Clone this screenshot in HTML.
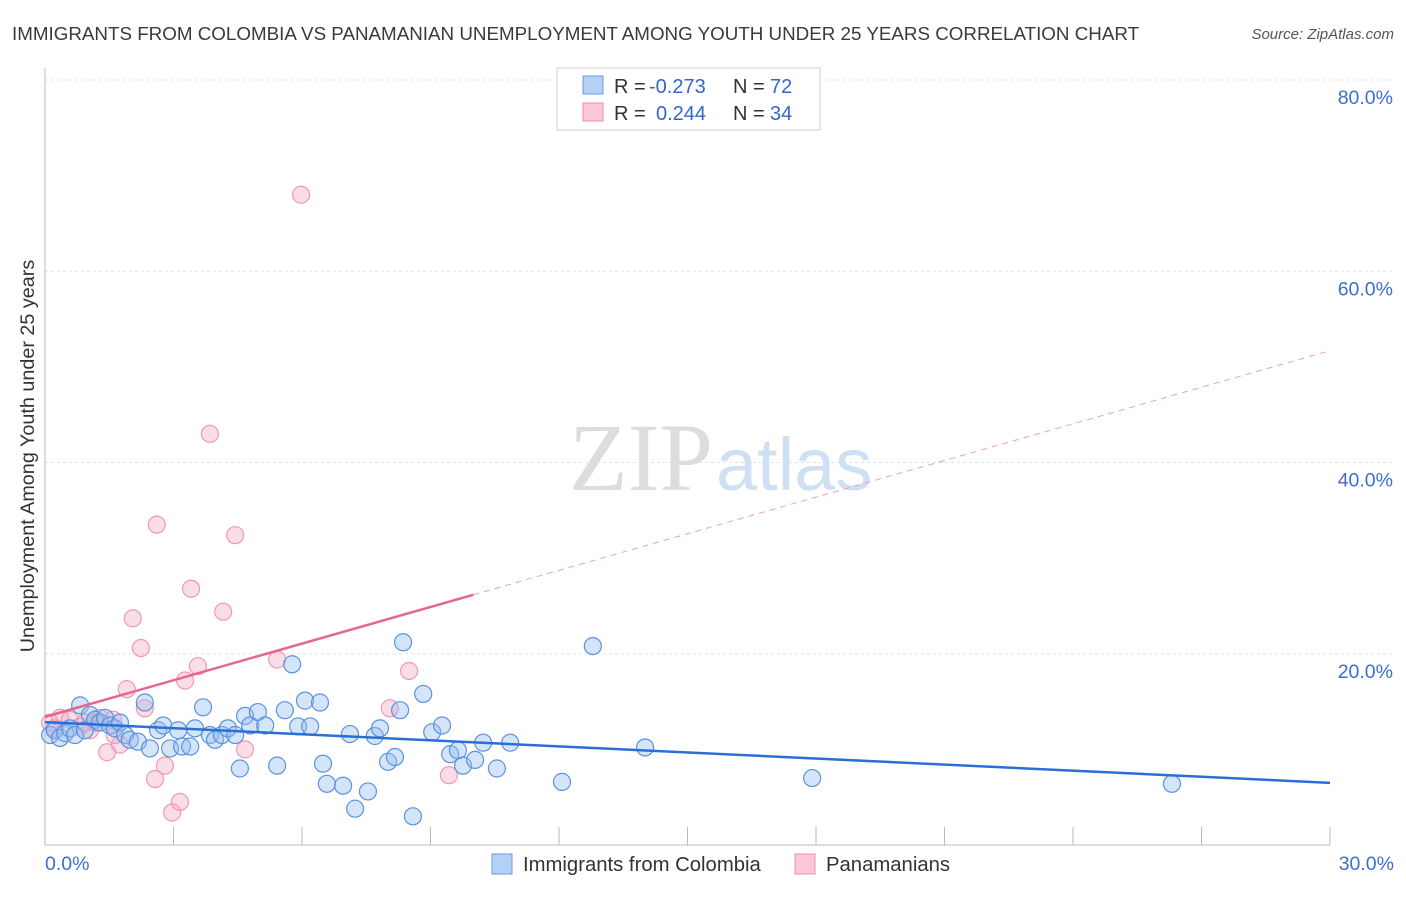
<!DOCTYPE html>
<html><head><meta charset="utf-8"><style>
body{margin:0;background:#fff;font-family:"Liberation Sans",sans-serif;}
</style></head><body>
<svg id="chart" width="1406" height="892" xmlns="http://www.w3.org/2000/svg" font-family="Liberation Sans, sans-serif">
<text x="12" y="40" font-size="18.8" fill="#3a3a3a">IMMIGRANTS FROM COLOMBIA VS PANAMANIAN UNEMPLOYMENT AMONG YOUTH UNDER 25 YEARS CORRELATION CHART</text>
<text x="1394" y="39" font-size="15" fill="#555" text-anchor="end" font-style="italic">Source: ZipAtlas.com</text>
<g id="grid"></g>
<text x="713" y="490" font-size="96" text-anchor="end" fill="#ddd" font-family="Liberation Serif, serif">ZIP</text>
<text x="716" y="490" font-size="74" fill="#cfe0f5">atlas</text>
<g id="marks"></g>
<text transform="translate(34,456) rotate(-90)" font-size="19.8" fill="#333" text-anchor="middle">Unemployment Among Youth under 25 years</text>
<g>
<rect x="557" y="68" width="263" height="62" fill="#fff" stroke="#ccc"/>
<rect x="583" y="76" width="20" height="18" fill="#b5d0f5" stroke="#6a9be0"/>
<rect x="583" y="103" width="20" height="18" fill="#fac8d6" stroke="#ee90ab"/>
<text x="614" y="93" font-size="20" fill="#333">R =</text>
<text x="649" y="93" font-size="20" fill="#3366cc">-0.273</text>
<text x="733" y="93" font-size="20" fill="#333">N =</text>
<text x="770" y="93" font-size="20" fill="#3366cc">72</text>
<text x="614" y="120" font-size="20" fill="#333">R =</text>
<text x="656" y="120" font-size="20" fill="#3366cc">0.244</text>
<text x="733" y="120" font-size="20" fill="#333">N =</text>
<text x="770" y="120" font-size="20" fill="#3366cc">34</text>
</g>
<g>
<rect x="492" y="854" width="20" height="20" fill="#b5d0f5" stroke="#6a9be0"/>
<text x="523" y="871" font-size="20.3" fill="#333">Immigrants from Colombia</text>
<rect x="795" y="854" width="20" height="20" fill="#fac8d6" stroke="#ee90ab"/>
<text x="826" y="871" font-size="20.3" fill="#333">Panamanians</text>
</g>
</svg>
<script>
const blueX=[0.12,0.23,0.35,0.47,0.58,0.70,0.82,0.93,1.05,1.17,1.28,1.40,1.52,1.63,1.75,1.87,1.98,2.17,2.33,2.45,2.64,2.76,2.92,3.11,3.20,3.39,3.50,3.69,3.85,3.97,4.13,4.27,4.44,4.55,4.67,4.79,4.97,5.14,5.42,5.60,5.77,5.91,6.07,6.19,6.42,6.49,6.58,6.96,7.12,7.24,7.54,7.70,7.82,8.01,8.17,8.29,8.36,8.59,8.83,9.04,9.27,9.46,9.64,9.76,10.04,10.23,10.55,10.86,12.07,12.79,14.01,17.91,26.31];
const blueY=[11.5,12.0,11.2,11.7,12.2,11.5,14.6,12.0,13.6,13.1,12.8,13.3,12.5,12.2,12.8,11.5,11.0,10.8,14.9,10.1,12.0,12.5,10.1,12.0,10.3,10.3,12.2,14.4,11.5,11.0,11.5,12.2,11.5,8.0,13.5,12.5,13.9,12.5,8.3,14.1,18.9,12.4,15.1,12.4,14.9,8.5,6.4,6.2,11.6,3.8,5.6,11.4,12.2,8.7,9.2,14.1,21.2,3.0,15.8,11.8,12.5,9.5,9.9,8.3,8.9,10.7,8.0,10.7,6.6,20.8,10.2,7.0,6.4];
const pinkX=[0.12,0.35,0.58,0.82,1.05,1.28,1.45,1.59,1.75,1.91,2.05,2.24,2.33,2.57,2.61,2.80,2.97,3.15,3.27,3.41,3.57,3.85,4.16,4.44,4.67,5.42,5.98,8.05,8.50,9.43,1.17,0.93,0.23,1.63];
const pinkY=[12.8,13.3,13.1,12.4,12.0,13.3,9.7,13.1,10.5,16.3,23.7,20.6,14.3,6.9,33.5,8.3,3.4,4.5,17.2,26.8,18.7,43.0,24.4,32.4,10.0,19.4,68.0,14.3,18.2,7.3,12.8,12.8,12.2,11.5];
const xTicks=[0,30], yTicks=[20,40,60,80];
const L=45,R=1330,T=80,B=845;
const xs=v=>L+(R-L)*v/30, ys=v=>B-(B-T)*v/80;
const NS="http://www.w3.org/2000/svg";
function mk(p,t,a){const e=document.createElementNS(NS,t);for(const k in a)e.setAttribute(k,a[k]);p.appendChild(e);return e;}
const g=document.getElementById('grid'), m=document.getElementById('marks');
yTicks.forEach(t=>{
 const l=mk(g,'line',{x1:L,x2:1394,y1:ys(t),y2:ys(t),stroke:'#e2e2e2','stroke-dasharray':'3,3'});
 
 
 const tx=mk(g,'text',{x:1393,y:ys(t)+24,'font-size':19.5,fill:'#3b6fd0','text-anchor':'end'});tx.textContent=t.toFixed(1)+'%';
 
 
});
mk(g,'line',{x1:L,x2:L,y1:68,y2:B,stroke:'#bbb'});
mk(g,'line',{x1:L,x2:R,y1:B,y2:B,stroke:'#bbb'});
for(let i=1;i<=10;i++){mk(g,'line',{x1:xs(i*3),x2:xs(i*3),y1:B,y2:B-18,stroke:'#bbb'});}
xTicks.forEach((t,i)=>{const tx=mk(g,'text',{x:i?1394:45,y:870,'font-size':19.5,fill:'#3b6fd0','text-anchor':i?'end':'start'});tx.textContent=t.toFixed(1)+'%';
 
 });
pinkX.forEach((x,i)=>{const c=mk(m,'circle',{cx:xs(x),cy:ys(pinkY[i]),r:8.5,fill:'rgba(246,170,195,0.4)',stroke:'#ef9ab5','stroke-width':1.2});
 
 });
blueX.forEach((x,i)=>{const c=mk(m,'circle',{cx:xs(x),cy:ys(blueY[i]),r:8.5,fill:'rgba(150,190,240,0.4)',stroke:'#5b93de','stroke-width':1.2});
 
 });
const bt=[12.85,6.5], pt=[13.4,51.7];
const b=mk(m,'line',{x1:xs(0),y1:ys(bt[0]),x2:xs(30),y2:ys(bt[1]),stroke:'#2a6fd6','stroke-width':2.5});


const pv=x=>pt[0]+(pt[1]-pt[0])*x/30;
const p1=mk(m,'line',{x1:xs(0),y1:ys(pv(0)),x2:xs(10),y2:ys(pv(10)),stroke:'#e8658e','stroke-width':2.5});


const p2=mk(m,'line',{x1:xs(10),y1:ys(pv(10)),x2:xs(30),y2:ys(pv(30)),stroke:'#eea0b8','stroke-width':1,'stroke-dasharray':'6,5'});


</script>
</body></html>
